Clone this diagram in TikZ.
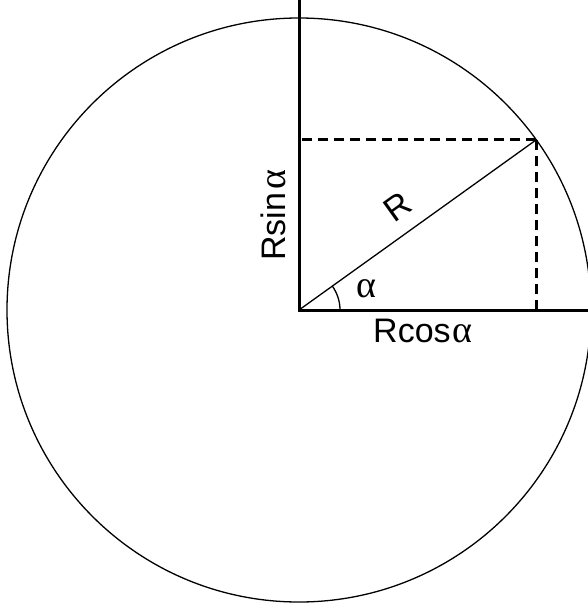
\documentclass[tikz,border=0pt]{standalone}
\usepackage{fontspec}
\usetikzlibrary{calc}
\setmainfont{Liberation Sans}
\newfontfamily\greekfont{Liberation Serif}
\newcommand{\myalpha}{{\greekfont\fontsize{38}{40}\selectfont α}}
\tikzset{
  thinline/.style={line width=1.3pt},
  axisline/.style={line width=3pt},
  dashline/.style={line width=3pt, dash pattern=on 10pt off 6pt},
  lbl/.style={inner sep=0pt, font=\fontsize{34}{40}\selectfont}
}
\begin{document}
\begin{tikzpicture}[x=1pt,y=-1pt]
\useasboundingbox (0,0) rectangle (588,605);
\coordinate (O) at (299,310);
\coordinate (P) at (536.3,139.8);
\coordinate (T) at (299,0);
\coordinate (E) at (588,310);
\begin{scope}
\clip (0,0) rectangle (588,605);
\draw[thinline] (299,310) circle (292);
\end{scope}
\draw[axisline] (T) -- (O) -- (E);
\draw[thinline] (O) -- (P);
\draw[dashline] (P) -- (O |- P);
\draw[dashline] (P) -- (P |- O);
\draw[thinline] ($(O)+(41,0)$) arc[start angle=0, end angle=-35.65, radius=41];
\node[lbl, anchor=base west] (rcos) at (373,342) {Rcos\kern2pt\myalpha};
\node[lbl, anchor=base west, rotate=90] (rsin) at (285,261) {Rsin\kern3pt\myalpha};
\node[lbl, rotate=35.65] (r) at (398,207) {R};
\node[lbl, anchor=base west] (al) at (356,297) {\myalpha};
\end{tikzpicture}
\end{document}
